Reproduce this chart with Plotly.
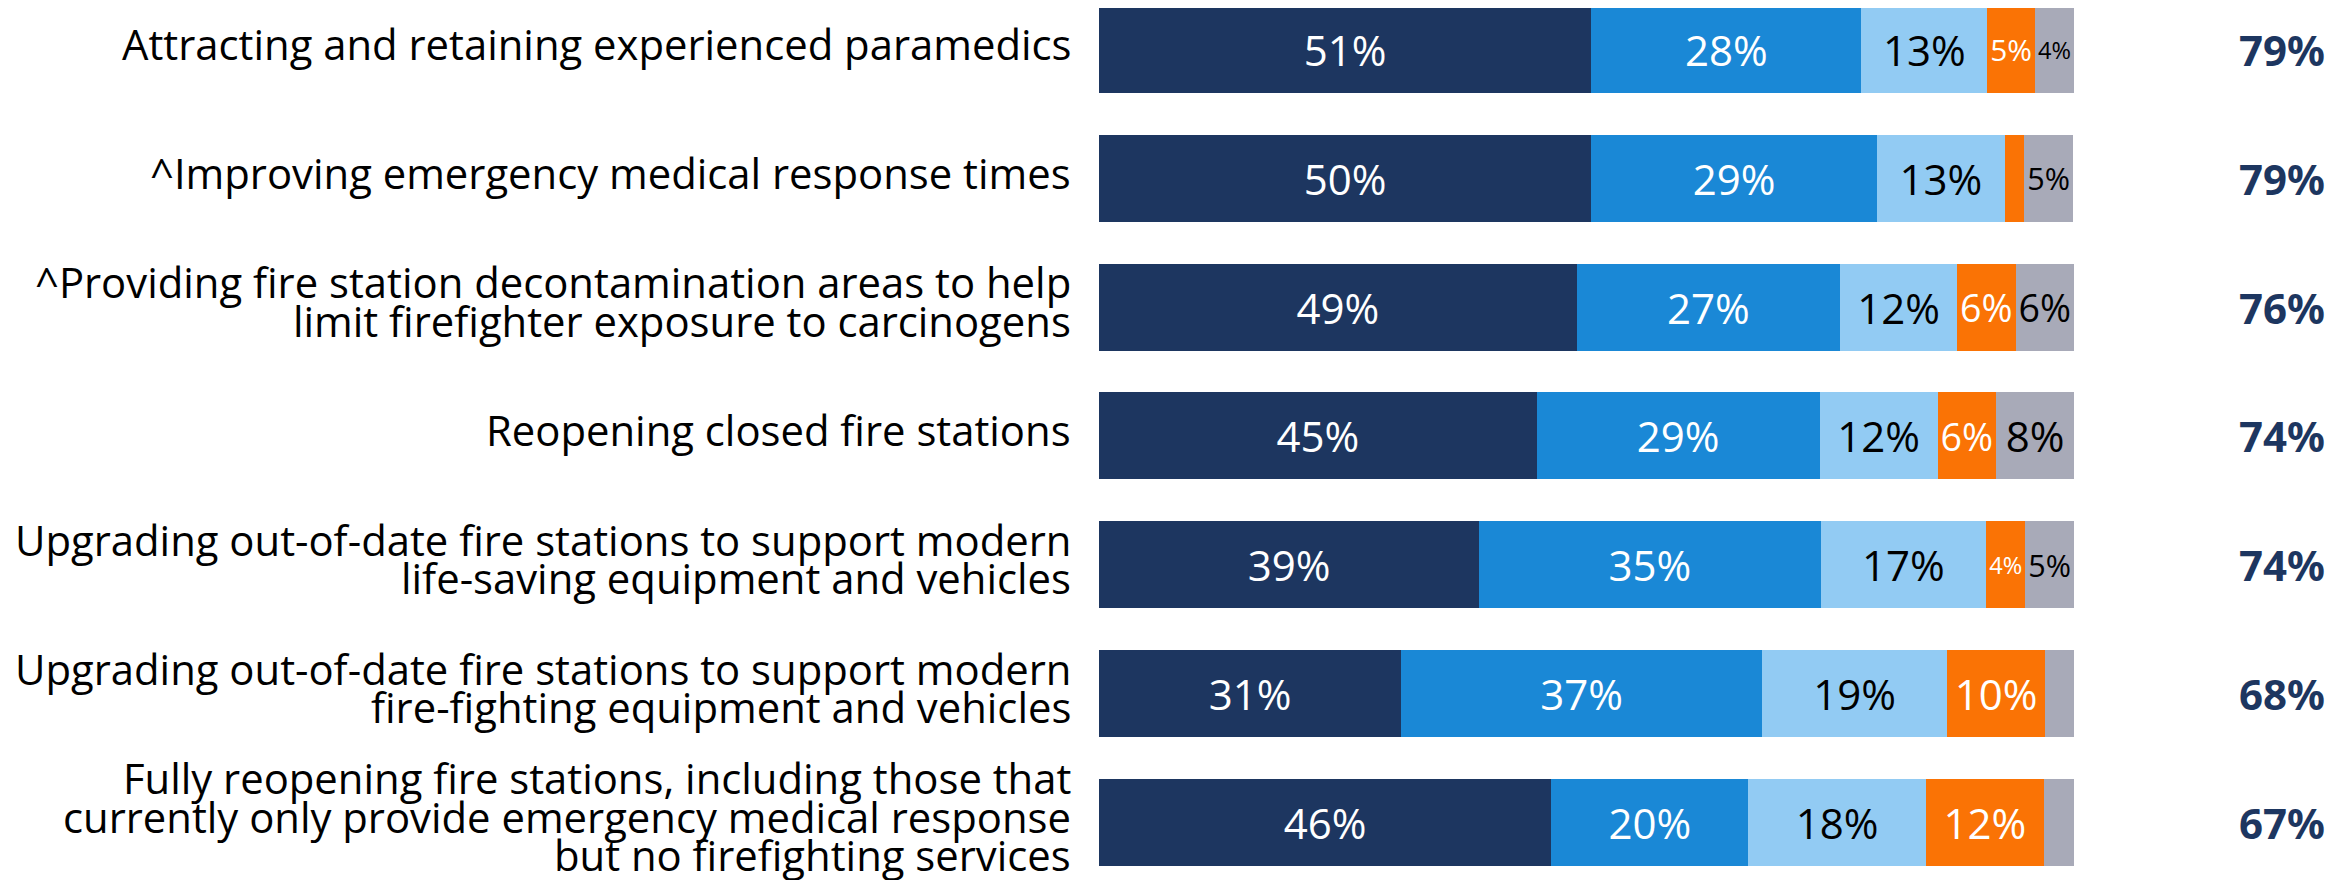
import plotly.graph_objects as go

categories = [
    "Attracting and retaining experienced paramedics",
    "^Improving emergency medical response times",
    "^Providing fire station decontamination areas to help<br>limit firefighter exposure to carcinogens",
    "Reopening closed fire stations",
    "Upgrading out-of-date fire stations to support modern<br>life-saving equipment and vehicles",
    "Upgrading out-of-date fire stations to support modern<br>fire-fighting equipment and vehicles",
    "Fully reopening fire stations, including those that<br>currently only provide emergency medical response<br>but no firefighting services",
]

# segment shares (bar widths, % of respondents)
seg1 = [50.5, 50.5, 49.0, 44.9, 39.0, 31.0, 46.4]
seg2 = [27.7, 29.3, 27.0, 29.0, 35.0, 37.0, 20.2]
seg3 = [12.9, 13.1, 12.0, 12.1, 17.0, 19.0, 18.2]
seg4 = [4.9, 2.0, 6.0, 6.0, 4.0, 10.0, 12.1]
seg5 = [4.0, 5.0, 6.0, 8.0, 5.0, 3.0, 3.1]

# printed labels
lab1 = ["51%", "50%", "49%", "45%", "39%", "31%", "46%"]
lab2 = ["28%", "29%", "27%", "29%", "35%", "37%", "20%"]
lab3 = ["13%", "13%", "12%", "12%", "17%", "19%", "18%"]
lab4 = ["5%", "", "6%", "6%", "4%", "10%", "12%"]
lab5 = ["4%", "5%", "6%", "8%", "5%", "", ""]

totals = ["79%", "79%", "76%", "74%", "74%", "68%", "67%"]

series = [
    ("Segment 1", seg1, lab1, "#1D3660", "white"),
    ("Segment 2", seg2, lab2, "#1A88D6", "white"),
    ("Segment 3", seg3, lab3, "#92CBF3", "black"),
    ("Segment 4", seg4, lab4, "#FA7305", "white"),
    ("Segment 5", seg5, lab5, "#A8AAB8", "black"),
]

ypos = list(range(len(categories)))

fig = go.Figure()
for name, vals, labs, color, tcolor in series:
    fig.add_trace(go.Bar(
        name=name, x=vals, y=ypos, orientation="h",
        marker=dict(color=color, line=dict(width=0)),
        width=0.675,
        text=labs, textposition="inside", insidetextanchor="middle",
        textangle=0,
        textfont=dict(family="Open Sans", size=42, color=tcolor),
        hoverinfo="skip",
    ))

annotations = []
LINE = 38.5
for i, cat in enumerate(categories):
    lines = cat.split("<br>")
    n = len(lines)
    for k, ln in enumerate(lines):
        annotations.append(dict(
            text=ln, xref="paper", yref="y", x=0, y=i,
            xanchor="right", yanchor="middle", xshift=-26,
            yshift=((n - 1) / 2 - k) * LINE + 6,
            showarrow=False, align="right",
            font=dict(family="Open Sans", size=41.8, color="black"),
        ))
    annotations.append(dict(
        text="<b>" + totals[i] + "</b>", xref="paper", yref="y",
        x=(2274 - 1091) / 975, y=i, xanchor="center", yanchor="middle",
        showarrow=False,
        font=dict(family="Noto Sans", size=42, color="#1D3660"),
    ))

fig.update_layout(
    barmode="stack",
    width=2349, height=880,
    margin=dict(l=1091, r=283, t=0, b=0),
    paper_bgcolor="white", plot_bgcolor="white",
    showlegend=False,
    xaxis=dict(range=[0, 100], visible=False, fixedrange=True),
    yaxis=dict(range=[6.5101, -0.3222], visible=False, fixedrange=True),
    annotations=annotations,
)

fig.write_html("out.html")
